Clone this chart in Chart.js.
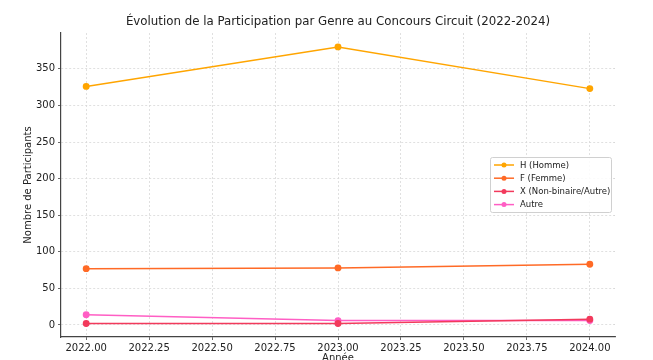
<!DOCTYPE html>
<html>
<head>
<meta charset="utf-8">
<script src="https://cdn.jsdelivr.net/npm/chart.js@4"></script>
<style>
  html, body { margin: 0; padding: 0; background: #fff; }
  #wrap { width: 653px; height: 360px; position: relative; }
</style>
</head>
<body>
<div id="wrap"><canvas id="chart"></canvas></div>
<script>
const annees = [2022, 2023, 2024];
const homme = [326, 380, 323];
const femme = [77, 78, 83];
const nonBinaire = [2, 2, 8];
const autre = [14, 6, 6];
const noms = ['H (Homme)', 'F (Femme)', 'X (Non-binaire/Autre)', 'Autre'];
const couleurs = ['#ffa500', '#ff6a26', '#f23a5c', '#ff5ec4'];
const titre = 'Évolution de la Participation par Genre au Concours Circuit (2022-2024)';

const FONT = 'DejaVu Sans';
const series = [homme, femme, nonBinaire, autre];

const datasets = series.map((vals, i) => ({
  label: noms[i],
  data: annees.map((a, j) => ({ x: a, y: vals[j] })),
  borderColor: couleurs[i],
  backgroundColor: couleurs[i],
  borderWidth: 1.5,
  pointRadius: 2.7,
  pointHoverRadius: 2.7,
  tension: 0
}));

// titre + légende dessinés à la main (style matplotlib)
const extras = {
  id: 'extras',
  afterDraw(chart) {
    const ctx = chart.ctx;
    const a = chart.chartArea;
    ctx.save();
    ctx.fillStyle = '#222';
    ctx.font = '11.8px "' + FONT + '"';
    ctx.textAlign = 'center';
    ctx.textBaseline = 'middle';
    ctx.fillText(titre, (a.left + a.right) / 2, 22);

    // légende
    const x0 = 490, y0 = 157, w = 121, h = 55;
    ctx.fillStyle = 'rgba(255,255,255,0.85)';
    ctx.strokeStyle = '#d0d0d0';
    ctx.lineWidth = 1;
    ctx.beginPath();
    ctx.roundRect(x0 + 0.5, y0 + 0.5, w, h, 2);
    ctx.fill();
    ctx.stroke();
    ctx.font = '8.5px "' + FONT + '"';
    ctx.textAlign = 'left';
    chart.data.datasets.forEach((ds, i) => {
      const yy = y0 + 8 + i * 13.2;
      ctx.strokeStyle = ds.borderColor;
      ctx.lineWidth = 1.5;
      ctx.beginPath();
      ctx.moveTo(x0 + 4, yy);
      ctx.lineTo(x0 + 24, yy);
      ctx.stroke();
      ctx.fillStyle = ds.borderColor;
      ctx.beginPath();
      ctx.arc(x0 + 14, yy, 2.5, 0, Math.PI * 2);
      ctx.fill();
      ctx.fillStyle = '#222';
      ctx.fillText(ds.label, x0 + 30, yy + 0.5);
    });
    ctx.restore();
  }
};

new Chart(document.getElementById('chart'), {
  type: 'line',
  data: { datasets: datasets },
  plugins: [extras],
  options: {
    responsive: true,
    maintainAspectRatio: false,
    animation: false,
    layout: { padding: { top: 33, right: 38, left: 22, bottom: 0 } },
    plugins: {
      legend: { display: false },
      title: { display: false },
      tooltip: { enabled: false }
    },
    scales: {
      x: {
        type: 'linear',
        min: 2021.9,
        max: 2024.1,
        afterBuildTicks: s => {
          s.ticks = [];
          for (let v = 2022; v <= 2024.001; v += 0.25) s.ticks.push({ value: v });
        },
        afterFit: s => { s.height = 23; },
        ticks: {
          color: '#222',
          font: { family: FONT, size: 10 },
          padding: 2,
          maxRotation: 0,
          callback: v => Number(v).toFixed(2)
        },
        grid: {
          color: '#d8d8d8',
          lineWidth: 0.8,
          tickColor: '#444',
          tickLength: 3,
          tickBorderDash: [],
          drawTicks: true
        },
        border: { display: true, color: '#444', width: 1.2, dash: [2, 2] },
        title: {
          display: true,
          text: 'Année',
          color: '#222',
          font: { family: FONT, size: 10 },
          padding: { top: 0, bottom: -4 }
        }
      },
      y: {
        min: -16.4,
        max: 399,
        afterBuildTicks: s => {
          s.ticks = [];
          for (let v = 0; v <= 350; v += 50) s.ticks.push({ value: v });
        },
        afterFit: s => { s.width = 39; },
        ticks: {
          color: '#222',
          font: { family: FONT, size: 10 },
          padding: 3
        },
        grid: {
          color: '#d8d8d8',
          lineWidth: 0.8,
          tickColor: '#444',
          tickLength: 3,
          tickBorderDash: []
        },
        border: { display: true, color: '#444', width: 1.2, dash: [2, 2] },
        title: {
          display: true,
          text: 'Nombre de Participants',
          color: '#222',
          font: { family: FONT, size: 10 },
          padding: { top: 0, bottom: 0 }
        }
      }
    }
  }
});
</script>
</body>
</html>
